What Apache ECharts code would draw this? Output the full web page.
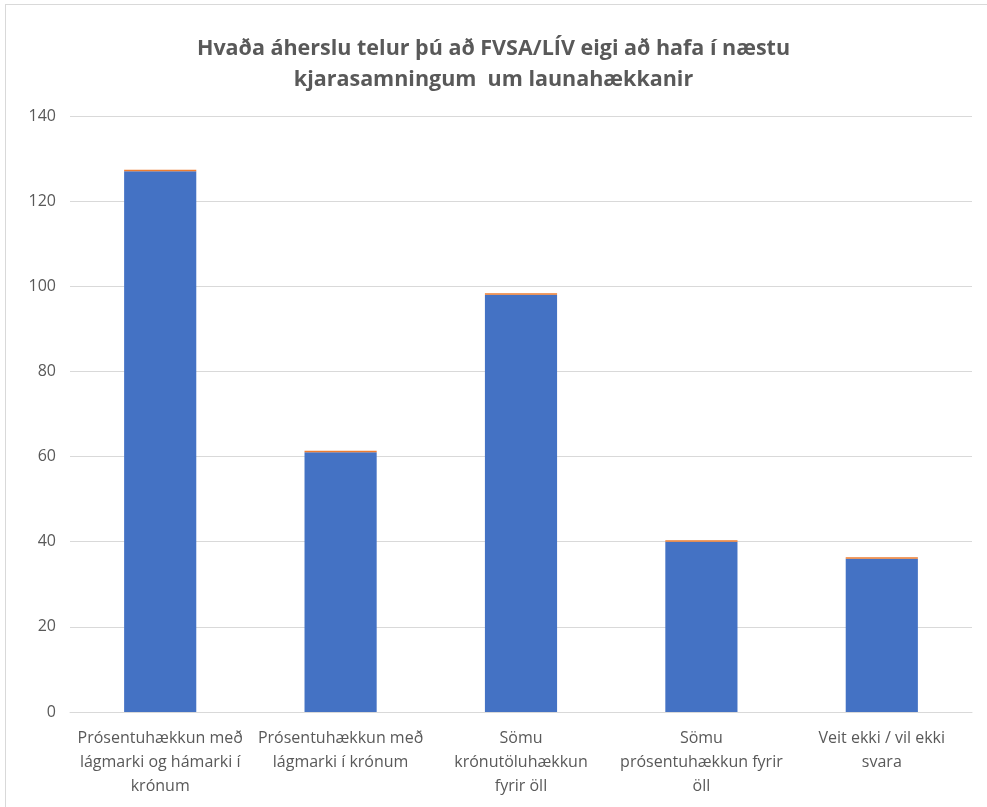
<!DOCTYPE html>
<html><head><meta charset="utf-8">
<script src="https://cdn.jsdelivr.net/npm/echarts@6/dist/echarts.min.js"></script>
<style>
html,body{margin:0;padding:0;background:#fff;}
#frame{position:absolute;left:5px;top:4px;width:990px;height:810px;border:1px solid #d9d9d9;box-sizing:border-box;}
#c{position:absolute;left:0;top:0;width:987px;height:807px;}
</style></head>
<body><div id="frame"></div><div id="c"></div>
<script>
const categories = [
  "Prósentuhækkun með\nlágmarki og hámarki í\nkrónum",
  "Prósentuhækkun með\nlágmarki í krónum",
  "Sömu\nkrónutöluhækkun\nfyrir öll",
  "Sömu\nprósentuhækkun fyrir\nöll",
  "Veit ekki / vil ekki\nsvara"
];
const counts = [127, 61, 98, 40, 36];
const shares = [0.35, 0.17, 0.27, 0.11, 0.10];
const yTicks = {min: 0, max: 140, interval: 20};
const titleText = "Hvaða áherslu telur þú að FVSA/LÍV eigi að hafa í næstu\nkjarasamningum  um launahækkanir";

const font = "'Open Sans', sans-serif";
const chart = echarts.init(document.getElementById('c'));
chart.setOption({
  animation: false,
  title: {
    text: titleText, left: 'center', top: 28,
    textStyle: {fontFamily: font, fontSize: 21.5, fontWeight: 'bold', color: '#595959', lineHeight: 31}
  },
  grid: {left: 70, right: 15, top: 116, bottom: 95},
  xAxis: {
    type: 'category', data: categories,
    axisLine: {lineStyle: {color: '#d9d9d9', width: 1}},
    axisTick: {show: false},
    axisLabel: {interval: 0, color: '#595959', fontFamily: font, fontSize: 16, lineHeight: 24, margin: 14}
  },
  yAxis: {
    type: 'value', min: yTicks.min, max: yTicks.max, interval: yTicks.interval,
    axisLine: {show: false}, axisTick: {show: false},
    splitLine: {lineStyle: {color: '#d9d9d9', width: 1}},
    axisLabel: {color: '#595959', fontFamily: font, fontSize: 16, margin: 14}
  },
  series: [
    {type: 'bar', stack: 's', data: counts, barWidth: '40%', itemStyle: {color: '#4472C4'}},
    {type: 'bar', stack: 's', data: shares, barWidth: '40%', barMinHeight: 1.5, itemStyle: {color: '#ED7D31'}}
  ]
});
</script></body></html>
